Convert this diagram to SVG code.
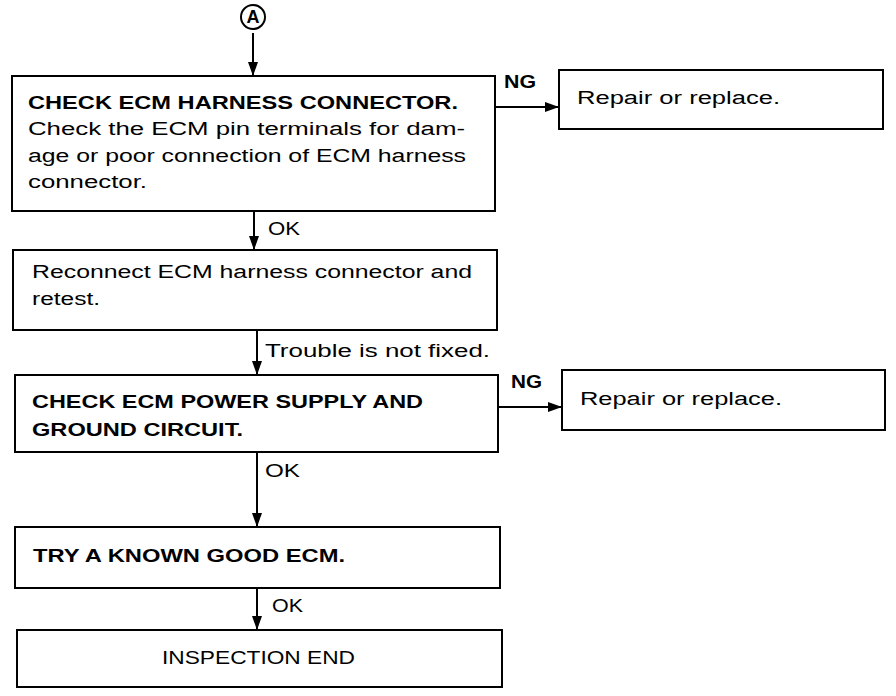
<svg xmlns="http://www.w3.org/2000/svg" width="896" height="696" viewBox="0 0 896 696">
<defs>
<marker id="ah" viewBox="0 0 14 10" markerWidth="14" markerHeight="10" refX="14" refY="5" orient="auto" markerUnits="userSpaceOnUse">
<path d="M0,0 L14,5 L0,10 z" fill="#000"/>
</marker>
</defs>
<style>
.box{fill:#fff;stroke:#000;stroke-width:2}
.t{font-family:"Liberation Sans",Arial,sans-serif;font-size:18px;fill:#000}
.b{font-weight:bold}
.c{stroke:#000;stroke-width:2;fill:none;marker-end:url(#ah)}
</style>
<rect width="896" height="696" fill="#fff"/>
<g id="start">
<circle cx="253" cy="17" r="12" fill="none" stroke="#000" stroke-width="2"/>
<text class="t b" x="253" y="23" text-anchor="middle" font-size="16">A</text>
</g>
<g id="n1">
<rect class="box" x="12" y="76" width="483" height="135"/>
<text class="t b" x="28" y="108.5" textLength="430" lengthAdjust="spacingAndGlyphs">CHECK ECM HARNESS CONNECTOR.</text>
<text class="t" x="28" y="135" textLength="437" lengthAdjust="spacingAndGlyphs">Check the ECM pin terminals for dam-</text>
<text class="t" x="28" y="161.5" textLength="438" lengthAdjust="spacingAndGlyphs">age or poor connection of ECM harness</text>
<text class="t" x="28" y="188" textLength="119" lengthAdjust="spacingAndGlyphs">connector.</text>
</g>
<g id="r1">
<rect class="box" x="559" y="70" width="324" height="59"/>
<text class="t" x="577" y="104" textLength="203" lengthAdjust="spacingAndGlyphs">Repair or replace.</text>
</g>
<g id="n2">
<rect class="box" x="13" y="250" width="484" height="80"/>
<text class="t" x="32" y="278" textLength="440" lengthAdjust="spacingAndGlyphs">Reconnect ECM harness connector and</text>
<text class="t" x="32" y="305" textLength="68" lengthAdjust="spacingAndGlyphs">retest.</text>
</g>
<g id="n3">
<rect class="box" x="15" y="375" width="483" height="77"/>
<text class="t b" x="32" y="408" textLength="391" lengthAdjust="spacingAndGlyphs">CHECK ECM POWER SUPPLY AND</text>
<text class="t b" x="32" y="436" textLength="211" lengthAdjust="spacingAndGlyphs">GROUND CIRCUIT.</text>
</g>
<g id="r2">
<rect class="box" x="562" y="370" width="323" height="60"/>
<text class="t" x="580" y="405" textLength="202" lengthAdjust="spacingAndGlyphs">Repair or replace.</text>
</g>
<g id="n4">
<rect class="box" x="15" y="527" width="485" height="61"/>
<text class="t b" x="33" y="562" textLength="312" lengthAdjust="spacingAndGlyphs">TRY A KNOWN GOOD ECM.</text>
</g>
<g id="n5">
<rect class="box" x="17" y="630" width="485" height="57"/>
<text class="t" x="162" y="664" textLength="193" lengthAdjust="spacingAndGlyphs">INSPECTION END</text>
</g>
<g id="connectors">
<line class="c" x1="253" y1="33" x2="253" y2="76"/>
<line class="c" x1="495" y1="107" x2="559" y2="107"/>
<text class="t b" x="504" y="88" textLength="32" lengthAdjust="spacingAndGlyphs">NG</text>
<line class="c" x1="254" y1="211" x2="254" y2="250"/>
<text class="t" x="268" y="235" textLength="32" lengthAdjust="spacingAndGlyphs">OK</text>
<line class="c" x1="257" y1="330" x2="257" y2="375"/>
<text class="t" x="265" y="357" textLength="225" lengthAdjust="spacingAndGlyphs">Trouble is not fixed.</text>
<line class="c" x1="498" y1="407" x2="562" y2="407"/>
<text class="t b" x="511" y="388" textLength="31" lengthAdjust="spacingAndGlyphs">NG</text>
<line class="c" x1="257" y1="452" x2="257" y2="527"/>
<text class="t" x="265" y="477" textLength="35" lengthAdjust="spacingAndGlyphs">OK</text>
<line class="c" x1="257" y1="588" x2="257" y2="630"/>
<text class="t" x="272" y="612" textLength="31" lengthAdjust="spacingAndGlyphs">OK</text>
</g>
</svg>
